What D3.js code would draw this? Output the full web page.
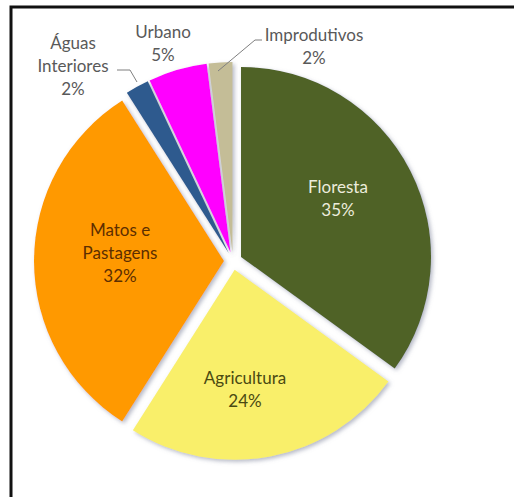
<!DOCTYPE html>
<html>
<head>
<meta charset="utf-8">
<script src="https://cdn.jsdelivr.net/npm/d3@7"></script>
<style>
  html, body { margin: 0; background: #fff; overflow: hidden; }
  svg { display: block; }
  svg text { font-family: Lato, "Open Sans", sans-serif; font-size: 17px; }
</style>
</head>
<body>
<div id="pie_chart"></div>
<script>
// data
var categories = ["Floresta", "Agricultura", "Matos e Pastagens", "Águas Interiores", "Urbano", "Improdutivos"];
var shares = [35, 24, 32, 2, 5, 2];
var colors = ["#4f6228", "#f9ef6a", "#ff9900", "#2e5a8e", "#ff00ff", "#c4bd97"];
var labelLines = [["Floresta", "35%"], ["Agricultura", "24%"], ["Matos e", "Pastagens", "32%"],
                  ["Águas", "Interiores", "2%"], ["Urbano", "5%"], ["Improdutivos", "2%"]];

var width = 514, height = 497,
    radius = 190, explode = 9,
    cx = 233, cy = 261;

var svg = d3.select("#pie_chart")
  .append("svg")
    .attr("width", width)
    .attr("height", height);

// soft shadow under the slices
var filter = svg.append("defs").append("filter")
    .attr("id", "shadow")
    .attr("x", "-20%").attr("y", "-20%")
    .attr("width", "140%").attr("height", "140%");
filter.append("feDropShadow")
    .attr("dx", 2).attr("dy", 2)
    .attr("stdDeviation", 2)
    .attr("flood-color", "#7a7f99")
    .attr("flood-opacity", 0.55);

// frame: only the top and left edges are in the crop
svg.append("path")
    .attr("d", "M11," + height + "V7H" + width)
    .attr("fill", "none")
    .attr("stroke", "#111")
    .attr("stroke-width", 3);

var data = categories.map(function(c, i) {
  return {name: c, value: shares[i], color: colors[i], lines: labelLines[i]};
});

var pie = d3.pie()
    .sort(null)
    .value(function(d) { return d.value; });

var arc = d3.arc()
    .innerRadius(0)
    .outerRadius(radius);

var arcs = pie(data);

function offset(d, r) {
  var a = (d.startAngle + d.endAngle) / 2;
  return [Math.sin(a) * r, -Math.cos(a) * r];
}

var g = svg.append("g")
    .attr("transform", "translate(" + cx + "," + cy + ")");

g.selectAll("path.slice")
  .data(arcs)
  .join("path")
    .attr("class", "slice")
    .attr("d", arc)
    .attr("fill", function(d) { return d.data.color; })
    .attr("filter", "url(#shadow)")
    .attr("transform", function(d) {
      var o = offset(d, explode);
      return "translate(" + o[0] + "," + o[1] + ")";
    });

// label positions: inside for the big slices, outside for the small ones
var labelPos = [
  {x: 105, y: -68, fill: "#ececdc"},
  {x: 12, y: 123, fill: "#4a4a12"},
  {x: -113, y: -25, fill: "#5c2e00"},
  {x: -160, y: -212, fill: "#595959"},
  {x: -70, y: -223, fill: "#595959"},
  {x: 81, y: -220, fill: "#595959"}
];

var lineH = 23;
g.selectAll("text.lbl")
  .data(arcs)
  .join("text")
    .attr("class", "lbl")
    .attr("text-anchor", "middle")
    .attr("fill", function(d, i) { return labelPos[i].fill; })
    .each(function(d, i) {
      var t = d3.select(this);
      d.data.lines.forEach(function(s, k) {
        t.append("tspan")
          .attr("x", labelPos[i].x)
          .attr("y", labelPos[i].y + k * lineH)
          .text(s);
      });
    });

// leader lines for Águas Interiores and Improdutivos
var leaders = [
  [[-116, -191], [-103, -191], [-96, -179]],
  [[-15, -190], [22, -221], [29, -221]]
];
g.selectAll("path.leader")
  .data(leaders)
  .join("path")
    .attr("class", "leader")
    .attr("d", d3.line())
    .attr("fill", "none")
    .attr("stroke", "#7f7f7f")
    .attr("stroke-width", 1);
</script>
</body>
</html>
